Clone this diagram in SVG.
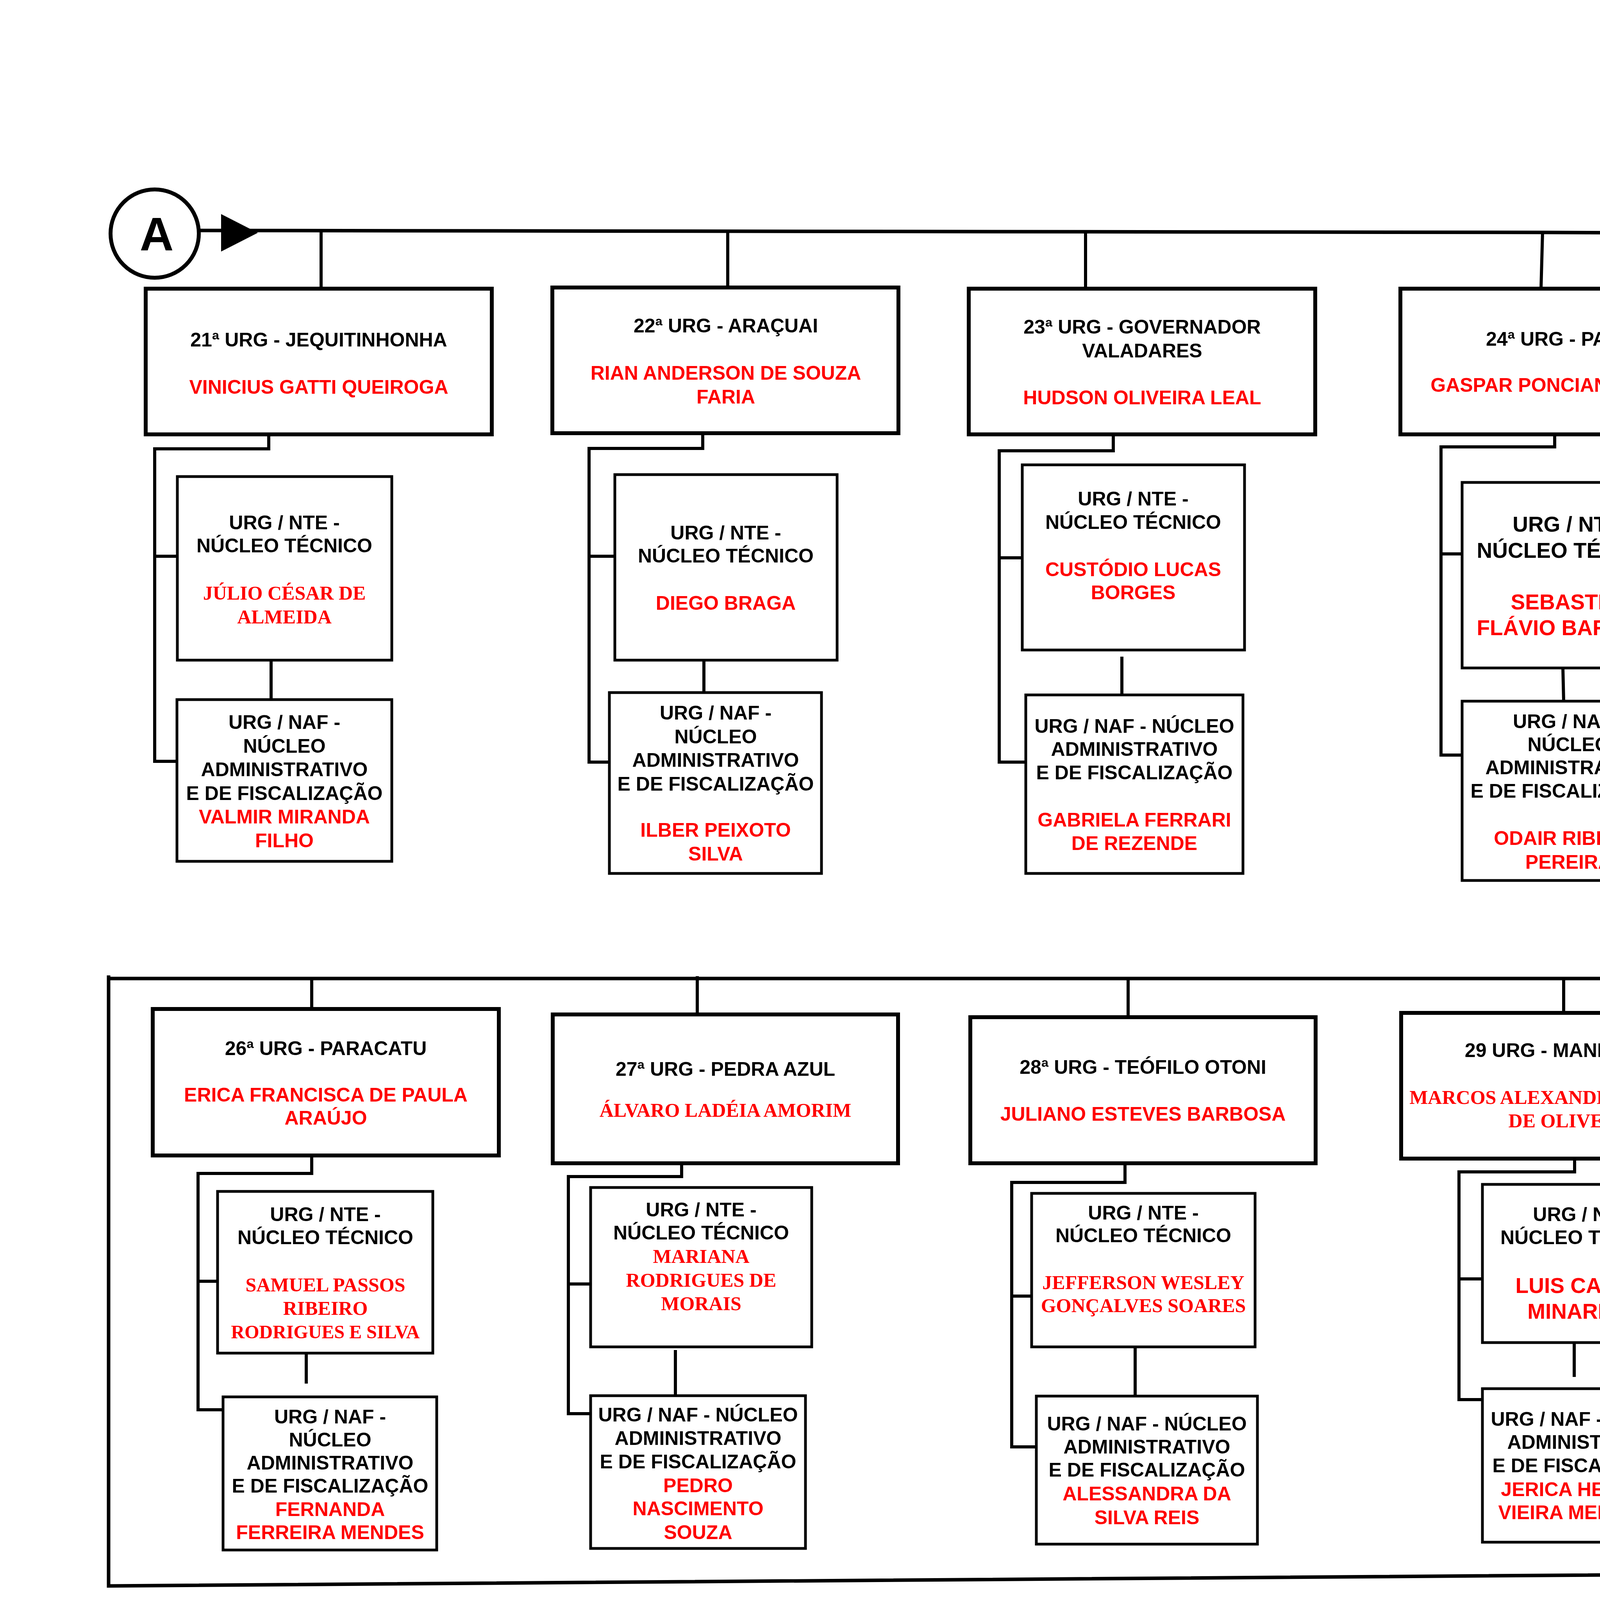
<svg xmlns="http://www.w3.org/2000/svg" width="6418" height="7969" viewBox="0 0 6418 7969">
<style>
.hb{fill:#fff;stroke:#000;stroke-width:10}
.sb{fill:#fff;stroke:#000;stroke-width:7}
.ln{fill:none;stroke:#000;stroke-width:8;stroke-linejoin:miter}
.fr{fill:none;stroke:#000;stroke-width:9;stroke-linejoin:miter}
.t{font-family:"Liberation Sans",Arial,sans-serif;font-weight:bold;font-size:50px;text-anchor:middle;fill:#000}
.r{fill:#f00}
.s{font-family:"Liberation Serif","Times New Roman",serif}
.b{font-size:55px}
.u{text-decoration:underline}
</style>
<rect width="6418" height="7969" fill="#fff"/>
<g id="connectors">
<path class="fr" d="M511,590 L3949,595 L5869,603 V2505 H278 M278,2497 V4060 L5869,4019 V5622 L782,5653"/>
<polygon points="566,548 660,596 566,644" fill="#000"/>
<path class="ln" d="M822,590V739 M688,1112V1149H396V1949H453 M396,1424H454 M694,1690V1791"/>
<path class="ln" d="M1863,590V736 M1799,1109V1148H1508V1951H1560 M1508,1424H1574 M1802,1690V1773"/>
<path class="ln" d="M2779,594V739 M2850,1112V1154H2558V1951H2626 M2558,1428H2617 M2872,1681V1779"/>
<path class="ln" d="M3949,594L3945,739 M3980,1112V1144H3689V1933H3743 M3689,1418H3743 M4001,1710L4003,1795"/>
<path class="ln" d="M5097,612V765 M5065,1120V1166H4767V1955H4835 M4760,1435H4836 M5086,1703V1828"/>
<path class="ln" d="M798,2505V2583 M798,2958V3004H507V3609H571 M507,3280H557 M784,3466V3542"/>
<path class="ln" d="M1785,2499V2597 M1745,2978V3012H1455V3619H1512 M1455,3287H1512 M1729,3456V3573"/>
<path class="ln" d="M2888,2505V2604 M2880,2978V3027H2590V3704H2653 M2590,3318H2641 M2906,3448V3574"/>
<path class="ln" d="M4003,2505V2593 M4031,2966V3000H3735V3583H3795 M3735,3274H3795 M4030,3437V3525"/>
<path class="ln" d="M5175,2497V2593 M5127,2968V2997H4835V3606H4888 M4835,3269H4888 M5176,3437V3551"/>
<path class="ln" d="M772,4518V4562H481V5174H533 M481,4836H533 M802,5034V5125"/>
<path class="ln" d="M1829,4534V4580H1537V5174H1582 M1537,4853H1596 M1863,5011V5127"/>
<path class="ln" d="M2948,4521V4564H2656V5215H2717 M2656,4838H2717 M2954,5006V5103"/>
<path class="ln" d="M3995,4506V4544H3703V5244H3758 M3703,4817H3761 M3997,5016V5103"/>
<path class="ln" d="M5189,4516V4554H4900V5223H4958 M4900,4828H4955 M5173,5042V5110"/>
<path class="ln" d="M778,5653V5770 M708,6145V6194H417V6835H469 M417,6469H469 M694,6619V6709"/>
<path class="ln" d="M1831,5651V5760 M1799,6135V6173H1509V6886H1552 M1509,6449H1562 M1783,6607V6709"/>
<path class="ln" d="M2956,5643V5755 M2885,6135V6181H2594V6896H2644 M2594,6456H2650 M2881,6631V6719"/>
<path class="ln" d="M4039,5643V5753 M4008,6128V6176H3716V6886H3784 M3716,6451H3773 M4031,6624V6714"/>
<path class="ln" d="M5163,5635V5750 M5127,6124V6171H4836V6883H4888 M4836,6446H4888 M5164,6646V6709"/>
</g>
<g id="connector-A">
<circle cx="396" cy="598" r="113" fill="#fff" stroke="#000" stroke-width="10"/>
<text class="t" x="401" y="641" style="font-size:120px">A</text>
</g>

<g id="urg21"><rect class="hb" x="373" y="739" width="886" height="373"/>
<text class="t"><tspan x="816" y="887">21ª URG - JEQUITINHONHA</tspan><tspan class="r" x="816" y="1008">VINICIUS GATTI QUEIROGA</tspan></text></g>
<g id="urg21-nte"><rect class="sb" x="454" y="1220" width="549" height="470"/>
<text class="t"><tspan x="728" y="1355">URG / NTE -</tspan><tspan x="728" y="1414">NÚCLEO TÉCNICO</tspan><tspan class="r s" x="728" y="1535">JÚLIO CÉSAR DE</tspan><tspan class="r s" x="728" y="1596">ALMEIDA</tspan></text></g>
<g id="urg21-naf"><rect class="sb" x="453" y="1791" width="550" height="414"/>
<text class="t"><tspan x="728" y="1866">URG / NAF -</tspan><tspan x="728" y="1927">NÚCLEO</tspan><tspan x="728" y="1987">ADMINISTRATIVO</tspan><tspan x="728" y="2048">E DE FISCALIZAÇÃO</tspan><tspan class="r" x="728" y="2108">VALMIR MIRANDA</tspan><tspan class="r" x="728" y="2169">FILHO</tspan></text></g>

<g id="urg22"><rect class="hb" x="1414" y="736" width="886" height="373"/>
<text class="t"><tspan x="1858" y="851">22ª URG -  ARAÇUAI</tspan><tspan class="r" x="1858" y="972">RIAN ANDERSON DE SOUZA</tspan><tspan class="r" x="1858" y="1033">FARIA</tspan></text></g>
<g id="urg22-nte"><rect class="sb" x="1574" y="1215" width="569" height="475"/>
<text class="t"><tspan x="1858" y="1381">URG / NTE -</tspan><tspan x="1858" y="1440">NÚCLEO TÉCNICO</tspan><tspan class="r" x="1858" y="1561">DIEGO BRAGA</tspan></text></g>
<g id="urg22-naf"><rect class="sb" x="1560" y="1773" width="543" height="463"/>
<text class="t"><tspan x="1832" y="1842">URG / NAF -</tspan><tspan x="1832" y="1903">NÚCLEO</tspan><tspan x="1832" y="1963">ADMINISTRATIVO</tspan><tspan x="1832" y="2024">E DE FISCALIZAÇÃO</tspan><tspan class="r" x="1832" y="2142">ILBER PEIXOTO</tspan><tspan class="r" x="1832" y="2203">SILVA</tspan></text></g>

<g id="urg23"><rect class="hb" x="2480" y="739" width="887" height="373"/>
<text class="t"><tspan x="2924" y="854">23ª URG - GOVERNADOR</tspan><tspan x="2924" y="915">VALADARES</tspan><tspan class="r" x="2924" y="1035">HUDSON OLIVEIRA LEAL</tspan></text></g>
<g id="urg23-nte"><rect class="sb" x="2617" y="1190" width="569" height="474"/>
<text class="t"><tspan x="2901" y="1294">URG / NTE -</tspan><tspan x="2901" y="1354">NÚCLEO TÉCNICO</tspan><tspan class="r" x="2901" y="1475">CUSTÓDIO LUCAS</tspan><tspan class="r" x="2901" y="1534">BORGES</tspan></text></g>
<g id="urg23-naf"><rect class="sb" x="2626" y="1779" width="556" height="457"/>
<text class="t"><tspan x="2904" y="1876">URG / NAF - NÚCLEO</tspan><tspan x="2904" y="1935">ADMINISTRATIVO</tspan><tspan x="2904" y="1995">E DE FISCALIZAÇÃO</tspan><tspan class="r" x="2904" y="2116">GABRIELA FERRARI</tspan><tspan class="r" x="2904" y="2176">DE REZENDE</tspan></text></g>

<g id="urg24"><rect class="hb" x="3585" y="739" width="885" height="373"/>
<text class="t"><tspan x="4028" y="885">24ª URG  - PASSOS</tspan><tspan class="r" x="4028" y="1003">GASPAR PONCIANO DA SILVA</tspan></text></g>
<g id="urg24-nte"><rect class="sb" x="3743" y="1235" width="571" height="475"/>
<text class="t b"><tspan x="4028" y="1361">URG / NTE -</tspan><tspan x="4028" y="1428">NÚCLEO TÉCNICO</tspan><tspan class="r" x="4028" y="1560">SEBASTIÃO</tspan><tspan class="r" x="4028" y="1626">FLÁVIO BARBOSA</tspan></text></g>
<g id="urg24-naf"><rect class="sb" x="3743" y="1795" width="546" height="459"/>
<text class="t"><tspan x="4016" y="1864">URG / NAF -</tspan><tspan x="4016" y="1923">NÚCLEO</tspan><tspan x="4016" y="1982">ADMINISTRATIVO</tspan><tspan x="4016" y="2042">E DE FISCALIZAÇÃO</tspan><tspan class="r" x="4016" y="2163">ODAIR RIBEIRO</tspan><tspan class="r" x="4016" y="2224">PEREIRA</tspan></text></g>

<g id="urg25"><rect class="hb" x="4673" y="765" width="887" height="355"/>
<text class="t"><tspan x="5116" y="898">25ª URG - UBERABA</tspan><tspan class="r s b" x="5116" y="1022">JORGE CUSSI NETO</tspan></text></g>
<g id="urg25-nte"><rect class="sb" x="4830" y="1228" width="571" height="475"/>
<text class="t b"><tspan x="5115" y="1354">URG / NTE -</tspan><tspan x="5115" y="1420">NÚCLEO TÉCNICO</tspan><tspan class="r" x="5115" y="1553">MARCO AURÉLIO</tspan><tspan class="r" x="5115" y="1621">DIB</tspan></text></g>
<g id="urg25-naf"><rect class="sb" x="4835" y="1828" width="556" height="459"/>
<text class="t"><tspan x="5113" y="1927">URG / NAF - NÚCLEO</tspan><tspan x="5113" y="1986">ADMINISTRATIVO</tspan><tspan x="5113" y="2046">E DE FISCALIZAÇÃO</tspan><tspan class="r" x="5113" y="2166">WALDYR SILVA</tspan><tspan class="r" x="5113" y="2227">JUNIOR</tspan></text></g>

<g id="urg26"><rect class="hb" x="391" y="2583" width="886" height="375"/>
<text class="t"><tspan x="834" y="2701">26ª URG  - PARACATU</tspan><tspan class="r" x="834" y="2820">ERICA FRANCISCA DE PAULA</tspan><tspan class="r" x="834" y="2879">ARAÚJO</tspan></text></g>
<g id="urg26-nte"><rect class="sb" x="557" y="3050" width="551" height="414"/>
<text class="t"><tspan x="833" y="3126">URG / NTE -</tspan><tspan x="833" y="3185">NÚCLEO TÉCNICO</tspan><tspan class="r s" x="833" y="3306">SAMUEL PASSOS</tspan><tspan class="r s" x="833" y="3366">RIBEIRO</tspan><tspan class="r s" x="833" y="3426" style="font-size:48px">RODRIGUES E SILVA</tspan></text></g>
<g id="urg26-naf"><rect class="sb" x="571" y="3576" width="547" height="392"/>
<text class="t"><tspan x="845" y="3644">URG / NAF -</tspan><tspan x="845" y="3703">NÚCLEO</tspan><tspan x="845" y="3762">ADMINISTRATIVO</tspan><tspan x="845" y="3821">E DE FISCALIZAÇÃO</tspan><tspan class="r" x="845" y="3881">FERNANDA</tspan><tspan class="r" x="845" y="3940">FERREIRA MENDES</tspan></text></g>

<g id="urg27"><rect class="hb" x="1415" y="2597" width="884" height="381"/>
<text class="t"><tspan x="1857" y="2754">27ª URG -  PEDRA AZUL</tspan><tspan class="r s" x="1857" y="2859">ÁLVARO LADÉIA AMORIM</tspan></text></g>
<g id="urg27-nte"><rect class="sb" x="1512" y="3040" width="566" height="408"/>
<text class="t"><tspan x="1795" y="3114">URG / NTE -</tspan><tspan x="1795" y="3173">NÚCLEO TÉCNICO</tspan><tspan class="r s" x="1795" y="3233">MARIANA</tspan><tspan class="r s" x="1795" y="3294">RODRIGUES DE</tspan><tspan class="r s" x="1795" y="3354">MORAIS</tspan></text></g>
<g id="urg27-naf"><rect class="sb" x="1512" y="3573" width="550" height="391"/>
<text class="t"><tspan x="1787" y="3639">URG / NAF - NÚCLEO</tspan><tspan x="1787" y="3699">ADMINISTRATIVO</tspan><tspan x="1787" y="3759">E DE FISCALIZAÇÃO</tspan><tspan class="r" x="1787" y="3820">PEDRO</tspan><tspan class="r" x="1787" y="3879">NASCIMENTO</tspan><tspan class="r" x="1787" y="3940">SOUZA</tspan></text></g>

<g id="urg28"><rect class="hb" x="2484" y="2604" width="884" height="374"/>
<text class="t"><tspan x="2926" y="2749">28ª URG - TEÓFILO OTONI</tspan><tspan class="r" x="2926" y="2869">JULIANO ESTEVES BARBOSA</tspan></text></g>
<g id="urg28-nte"><rect class="sb" x="2641" y="3055" width="572" height="393"/>
<text class="t"><tspan x="2927" y="3122">URG / NTE -</tspan><tspan x="2927" y="3180">NÚCLEO TÉCNICO</tspan><tspan class="r s" x="2927" y="3300">JEFFERSON WESLEY</tspan><tspan class="r s" x="2927" y="3359">GONÇALVES SOARES</tspan></text></g>
<g id="urg28-naf"><rect class="sb" x="2653" y="3574" width="566" height="379"/>
<text class="t"><tspan x="2936" y="3662">URG / NAF - NÚCLEO</tspan><tspan x="2936" y="3721">ADMINISTRATIVO</tspan><tspan x="2936" y="3780">E DE FISCALIZAÇÃO</tspan><tspan class="r" x="2936" y="3841">ALESSANDRA DA</tspan><tspan class="r" x="2936" y="3902">SILVA REIS</tspan></text></g>

<g id="urg29"><rect class="hb" x="3587" y="2593" width="884" height="373"/>
<text class="t"><tspan x="4029" y="2706">29 URG - MANHUMIRIM</tspan><tspan class="r s" x="4029" y="2826">MARCOS ALEXANDRE SALDANHA</tspan><tspan class="r s" x="4029" y="2886">DE OLIVEIRA</tspan></text></g>
<g id="urg29-nte"><rect class="sb" x="3795" y="3032" width="543" height="405"/>
<text class="t"><tspan x="4066" y="3126">URG / NTE -</tspan><tspan x="4066" y="3185">NÚCLEO TÉCNICO</tspan><tspan class="r b" x="4066" y="3310">LUIS CARLOS</tspan><tspan class="r b" x="4066" y="3376">MINARRINE</tspan></text></g>
<g id="urg29-naf"><rect class="sb" x="3795" y="3555" width="554" height="393"/>
<text class="t"><tspan x="4072" y="3650">URG / NAF - NÚCLEO</tspan><tspan x="4072" y="3709">ADMINISTRATIVO</tspan><tspan x="4072" y="3769">E DE FISCALIZAÇÃO</tspan><tspan class="r" x="4072" y="3830">JERICA HERINGER</tspan><tspan class="r" x="4072" y="3889">VIEIRA  MENDONÇA</tspan></text></g>

<g id="urg30"><rect class="hb" x="4754" y="2593" width="886" height="375"/>
<text class="t"><tspan x="5197" y="2733">30ª URG - JUIZ DE FORA</tspan><tspan class="r s b" x="5197" y="2861">MAURO ALEXANDRE GOMES</tspan></text></g>
<g id="urg30-nte"><rect class="sb" x="4888" y="3025" width="570" height="412"/>
<text class="t"><tspan x="5173" y="3129">URG / NTE -</tspan><tspan x="5173" y="3187">NÚCLEO TÉCNICO</tspan></text>
<text class="t r u" x="5173" y="3310">ALEXANDRE</text>
<text class="t r u" x="5173" y="3369">ROBERTO PINTO</text></g>
<g id="urg30-naf"><rect class="sb" x="4888" y="3566" width="570" height="382"/>
<text class="t"><tspan x="5173" y="3655">URG / NAF - NÚCLEO</tspan><tspan x="5173" y="3716">ADMINISTRATIVO</tspan><tspan x="5173" y="3775">E DE FISCALIZAÇÃO</tspan><tspan class="r" x="5173" y="3835">DAVID LUIZ LOPES</tspan><tspan class="r" x="5173" y="3894">YAMIM</tspan></text></g>

<g id="urg31"><rect class="hb" x="374" y="4142" width="884" height="376"/>
<text class="t"><tspan x="816" y="4287">31ª URG -  ITUIUTABA</tspan><tspan class="r" x="816" y="4409">ADRIAN FRANCO SILVA</tspan></text></g>
<g id="urg31-nte"><rect class="sb" x="533" y="4620" width="548" height="414"/>
<text class="t"><tspan x="807" y="4725">URG / NTE -</tspan><tspan x="807" y="4785">NÚCLEO TÉCNICO</tspan><tspan class="r" x="807" y="4904">LEANDRO DE</tspan><tspan class="r" x="807" y="4963">ALMEIDA MENDES</tspan></text></g>
<g id="urg31-naf"><rect class="sb" x="533" y="5125" width="548" height="399"/>
<text class="t"><tspan x="807" y="5193">URG / NAF -</tspan><tspan x="807" y="5252">NÚCLEO</tspan><tspan x="807" y="5312">ADMINISTRATIVO</tspan><tspan x="807" y="5371">E DE FISCALIZAÇÃO</tspan><tspan class="r" x="807" y="5432">RANIELLE FELIPE</tspan><tspan class="r" x="807" y="5493">BRITAS DE FREITAS</tspan></text></g>

<g id="urg32"><rect class="hb" x="1435" y="4159" width="880" height="375"/>
<text class="t"><tspan x="1875" y="4294">32ª URG -  JANAÚBA</tspan><tspan class="r s" x="1875" y="4435">GENILSON FERREIRA DA SILVA</tspan></text></g>
<g id="urg32-nte"><rect class="sb" x="1596" y="4610" width="546" height="406"/>
<text class="t"><tspan x="1869" y="4710">URG / NTE -</tspan><tspan x="1869" y="4769">NÚCLEO TÉCNICO</tspan><tspan class="r s" x="1869" y="4891">CARLÚCIO DJANIR</tspan><tspan class="r s" x="1869" y="4950">DAS ILVA ALVES</tspan></text></g>
<g id="urg32-naf"><rect class="sb" x="1582" y="5127" width="552" height="405"/>
<text class="t"><tspan x="1858" y="5197">URG / NAF - NÚCLEO</tspan><tspan x="1858" y="5256">ADMINISTRATIVO</tspan><tspan x="1858" y="5317">E DE FISCALIZAÇÃO</tspan><tspan class="r s" x="1858" y="5377">CARLA RENATA</tspan><tspan class="r s" x="1858" y="5436">RODRIGUES DE</tspan><tspan class="r s" x="1858" y="5496">AGUIAR</tspan></text></g>

<g id="urg33"><rect class="hb" x="2510" y="4149" width="884" height="372"/>
<text class="t"><tspan x="2952" y="4263">33ª URG - PIRAPORA</tspan><tspan class="r" x="2952" y="4384">ERIKA DOS SANTOS PINTO</tspan><tspan class="r" x="2952" y="4445">CABRAL</tspan></text></g>
<g id="urg33-nte"><rect class="sb" x="2717" y="4600" width="546" height="406"/>
<text class="t"><tspan x="2990" y="4703">URG / NTE -</tspan><tspan x="2990" y="4761">NÚCLEO TÉCNICO</tspan><tspan class="r" x="2990" y="4882">ANA PAULA</tspan><tspan class="r" x="2990" y="4942">MACÊDO DA COSTA</tspan></text></g>
<g id="urg33-naf"><rect class="sb" x="2717" y="5103" width="546" height="405"/>
<text class="t"><tspan x="2990" y="5174">URG / NAF -</tspan><tspan x="2990" y="5234">NÚCLEO</tspan><tspan x="2990" y="5294">ADMINISTRATIVO</tspan><tspan x="2990" y="5353">E DE FISCALIZAÇÃO</tspan><tspan class="r" x="2990" y="5414">ANA PAULA DE</tspan><tspan class="r" x="2990" y="5473">FÁTIMA GONZAGA</tspan></text></g>

<g id="urg34"><rect class="hb" x="3588" y="4139" width="885" height="374"/>
<text class="t"><tspan x="4030" y="4254">34ª URG - SALINAS</tspan><tspan class="r" x="4030" y="4373">WESLEY FERNANDO CRUZ</tspan><tspan class="r" x="4030" y="4435">SANTOS</tspan></text></g>
<g id="urg34-nte"><rect class="sb" x="3761" y="4601" width="548" height="407"/>
<text class="t"><tspan x="4035" y="4705">URG / NTE -</tspan><tspan x="4035" y="4763">NÚCLEO TÉCNICO</tspan><tspan class="r" x="4035" y="4884">CAIO TÚLIO</tspan><tspan class="r" x="4035" y="4943">SOARES SANTOS</tspan></text></g>
<g id="urg34-naf"><rect class="sb" x="3758" y="5116" width="548" height="407"/>
<text class="t"><tspan x="4032" y="5190">URG / NAF -</tspan><tspan x="4032" y="5249">NÚCLEO</tspan><tspan x="4032" y="5309">ADMINISTRATIVO</tspan><tspan x="4032" y="5368">E DE FISCALIZAÇÃO</tspan><tspan class="r" x="4032" y="5430">MARIA DOLORES</tspan><tspan class="r" x="4032" y="5489">CASTRO CALDEIRA</tspan></text></g>

<g id="urg35"><rect class="hb" x="4734" y="4127" width="888" height="374"/>
<text class="t"><tspan x="5178" y="4236">35ª URG  - ABAETÉ</tspan><tspan class="r s b" x="5178" y="4361">ORISVALDO PEREIRA DA</tspan><tspan class="r s b" x="5178" y="4428">SILVA JUNIOR</tspan></text></g>
<g id="urg35-nte"><rect class="sb" x="4955" y="4620" width="550" height="422"/>
<text class="t"><tspan x="5230" y="4669">URG / NTE -</tspan><tspan x="5230" y="4729">NÚCLEO TÉCNICO</tspan><tspan class="r" x="5230" y="4850">ANGELA</tspan><tspan class="r" x="5230" y="4909">GUIMARÃES DA</tspan><tspan class="r" x="5230" y="4970">CUNHA PEREIRA</tspan></text></g>
<g id="urg35-naf"><rect class="sb" x="4958" y="5110" width="547" height="406"/>
<text class="t"><tspan x="5231" y="5182">URG / NAF -</tspan><tspan x="5231" y="5242">NÚCLEO</tspan><tspan x="5231" y="5302">ADMINISTRATIVO</tspan><tspan x="5231" y="5361">E DE FISCALIZAÇÃO</tspan><tspan class="r" x="5231" y="5422">PAULA APARECIDA</tspan><tspan class="r" x="5231" y="5481">DE HEREDIA</tspan></text></g>

<g id="urg36"><rect class="hb" x="380" y="5770" width="886" height="375"/>
<text class="t"><tspan x="823" y="5903">36ª URG - ARINOS</tspan><tspan class="r" x="823" y="6043">UBIRAJARA MACHADO PAPINI</tspan></text></g>
<g id="urg36-nte"><rect class="sb" x="469" y="6217" width="546" height="402"/>
<text class="t"><tspan x="742" y="6316">URG / NTE -</tspan><tspan x="742" y="6374">NÚCLEO TÉCNICO</tspan><tspan class="r" x="742" y="6495">LUIZ FERNANDO DE</tspan><tspan class="r" x="742" y="6556">CAMPOS  CABRAL</tspan></text></g>
<g id="urg36-naf"><rect class="sb" x="469" y="6709" width="546" height="431"/>
<text class="t"><tspan x="742" y="6762">URG / NAF -</tspan><tspan x="742" y="6821">NÚCLEO</tspan><tspan x="742" y="6880">ADMINISTRATIVO</tspan><tspan x="742" y="6939">E DE FISCALIZAÇÃO</tspan><tspan class="r" x="742" y="6998">ALCIDES</tspan><tspan class="r" x="742" y="7057">RODRIGUES DE</tspan><tspan class="r" x="742" y="7116">SOUZA</tspan></text></g>

<g id="urg37"><rect class="hb" x="1441" y="5760" width="884" height="375"/>
<text class="t"><tspan x="1883" y="5869">37ª URG - JANUÁRIA</tspan><tspan class="r s b" x="1883" y="5995">PETRONIO FERREIRA</tspan><tspan class="r s b" x="1883" y="6061">ALKIMIM</tspan></text></g>
<g id="urg37-nte"><rect class="sb" x="1562" y="6202" width="546" height="405"/>
<text class="t"><tspan x="1835" y="6273">URG / NTE -</tspan><tspan x="1835" y="6332">NÚCLEO TÉCNICO</tspan><tspan class="r" x="1835" y="6454">LUIZ CÉSAR SOUZA</tspan><tspan class="r" x="1835" y="6513">PINTO FILHO</tspan></text></g>
<g id="urg37-naf"><rect class="sb" x="1552" y="6709" width="546" height="408"/>
<text class="t"><tspan x="1825" y="6784">URG / NAF -</tspan><tspan x="1825" y="6842">NÚCLEO</tspan><tspan x="1825" y="6903">ADMINISTRATIVO</tspan><tspan x="1825" y="6962">E DE FISCALIZAÇÃO</tspan><tspan class="r" x="1825" y="7023">GLEIDE ARAUJO DE</tspan><tspan class="r" x="1825" y="7082">SOUZA CARNEIRO</tspan></text></g>

<g id="urg38"><rect class="hb" x="2510" y="5755" width="888" height="380"/>
<text class="t"><tspan x="2954" y="5872">38ª URG - CAPELINHA</tspan><tspan class="r" x="2954" y="5993">ELLEN DAYENE CORDEIRO  DE</tspan><tspan class="r" x="2954" y="6053">SOUSA</tspan></text></g>
<g id="urg38-nte"><rect class="sb" x="2650" y="6217" width="547" height="407"/>
<text class="t"><tspan x="2924" y="6289">URG / NTE -</tspan><tspan x="2924" y="6347">NÚCLEO TÉCNICO</tspan><tspan class="r" x="2924" y="6469">MAGNO LUIZ SORES</tspan><tspan class="r" x="2924" y="6529">COUY</tspan></text></g>
<g id="urg38-naf"><rect class="sb" x="2644" y="6719" width="549" height="425"/>
<text class="t"><tspan x="2918" y="6808">URG / NAF -</tspan><tspan x="2918" y="6867">NÚCLEO</tspan><tspan x="2918" y="6929">ADMINISTRATIVO</tspan><tspan x="2918" y="6988">E DE FISCALIZAÇÃO</tspan><tspan class="r" x="2918" y="7049">GERALDO VITOR DE</tspan><tspan class="r" x="2918" y="7109">ANDRADE</tspan></text></g>

<g id="urg39"><rect class="hb" x="3616" y="5753" width="884" height="375"/>
<text class="t"><tspan x="4058" y="5898">39º URG - JOÃO PINHEIRO</tspan><tspan class="r" x="4058" y="6018">HELIO DA SILVA MOTA</tspan></text></g>
<g id="urg39-nte"><rect class="sb" x="3773" y="6217" width="549" height="407"/>
<text class="t"><tspan x="4047" y="6289">URG / NTE -</tspan><tspan x="4047" y="6347">NÚCLEO TÉCNICO</tspan><tspan class="r" x="4047" y="6469">CLÁUDIO VALÉRIO</tspan><tspan class="r" x="4047" y="6529">SOLIS RESENDE</tspan></text></g>
<g id="urg39-naf"><rect class="sb" x="3784" y="6714" width="549" height="418"/>
<text class="t"><tspan x="4058" y="6791">URG / NAF -</tspan><tspan x="4058" y="6850">NÚCLEO</tspan><tspan x="4058" y="6911">ADMINISTRATIVO</tspan><tspan x="4058" y="6971">E DE FISCALIZAÇÃO</tspan><tspan class="r" x="4058" y="7031">MARIA APARECIDA</tspan><tspan class="r" x="4058" y="7092">DA SILVA</tspan></text></g>

<g id="urg40"><rect class="hb" x="4744" y="5750" width="886" height="374"/>
<text class="t"><tspan x="5187" y="5835">40ª URG - CORONEL FABRICIANO</tspan><tspan class="r" x="5187" y="5954">EDUARDO GUIMARÃES</tspan><tspan class="r" x="5187" y="6013">DRUMOND</tspan></text></g>
<g id="urg40-nte"><rect class="sb" x="4888" y="6233" width="550" height="407"/>
<text class="t"><tspan x="5163" y="6362">URG / NTE -</tspan><tspan x="5163" y="6421">NÚCLEO TÉCNICO</tspan><tspan class="r" x="5163" y="6483">NUÍLA RANGEL</tspan><tspan class="r" x="5163" y="6543">CHAVES</tspan></text></g>
<g id="urg40-naf"><rect class="sb" x="4888" y="6709" width="553" height="438"/>
<text class="t"><tspan x="5164" y="6801">URG / NAF - NÚCLEO</tspan><tspan x="5164" y="6860">ADMINISTRATIVO</tspan><tspan x="5164" y="6921">E DE FISCALIZAÇÃ</tspan><tspan class="r" x="5164" y="7041">JOÃO AMÂNCIO DA</tspan><tspan class="r" x="5164" y="7100">SILVA NETO</tspan></text></g>
</svg>
